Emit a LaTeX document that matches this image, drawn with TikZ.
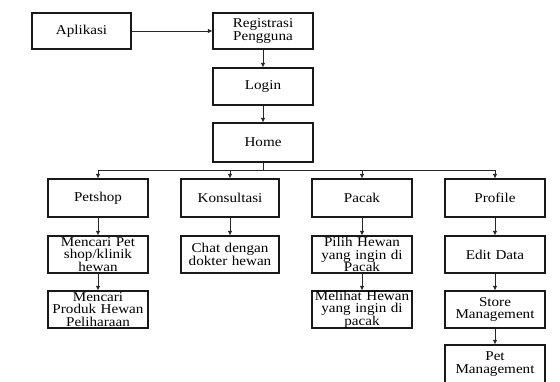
\documentclass[tikz,border=0pt]{standalone}
\usepackage{fontspec}
\setmainfont{Liberation Serif}[FakeStretch=1.12]
\usetikzlibrary{arrows.meta}
\begin{document}
\begin{tikzpicture}[x=1pt,y=-1pt,
  box/.style={draw=black!90,line width=1.1pt,minimum width=100pt,minimum height=37pt,
    inner sep=0pt,align=center,text width=98pt,
    font=\fontsize{13.5}{12.3}\selectfont},
  arr/.style={draw=black!85,line width=0.8pt,-{Latex[length=4.5pt,width=4.5pt]}},
  ln/.style={draw=black!85,line width=0.8pt}]
\useasboundingbox (0,0) rectangle (560,381);
\clip (0,0) rectangle (560,381);
\node[box,minimum width=99pt,minimum height=36pt] (apl) at (81.5,31) {Aplikasi};
\node[box,minimum height=36pt] (reg) at (263,31) {Registrasi\\Pengguna};
\node[box] (login) at (263,86.5) {Login};
\node[box,minimum height=39pt] (home) at (263,142.5) {Home};
\node[box,minimum height=38pt] (pet) at (98,198) {Petshop};
\node[box,minimum width=98pt,minimum height=38pt] (kon) at (230,198) {Konsultasi};
\node[box,minimum height=38pt] (pac) at (362,198) {Pacak};
\node[box,minimum height=38pt] (pro) at (495,198) {Profile};
\node[box] (cari) at (98,254.5) {Mencari Pet\\shop/klinik\\hewan};
\node[box,minimum width=98pt] (chat) at (230,254.5) {Chat dengan\\dokter hewan};
\node[box] (pilih) at (362,254.5) {Pilih Hewan\\yang ingin di\\Pacak};
\node[box] (edit) at (495,254.5) {Edit Data};
\node[box] (produk) at (98,309.5) {Mencari\\Produk Hewan\\Peliharaan};
\node[box] (lihat) at (362,309.5) {Melihat Hewan\\yang ingin di\\pacak};
\node[box] (store) at (495,309.5) {Store\\Management};
\node[box,minimum height=38pt] (petm) at (495,364) {Pet\\Management};
\coordinate (bus) at (263,170);
\draw[arr] (apl) -- (reg);
\draw[arr] (reg) -- (login);
\draw[arr] (login) -- (home);
\draw[ln] (home.south) -- (bus);
\draw[arr] (bus) -| (pet.north);
\draw[arr] (bus) -| (kon.north);
\draw[arr] (bus) -| (pac.north);
\draw[arr] (bus) -| (pro.north);
\draw[arr] (pet) -- (cari);
\draw[arr] (kon) -- (chat);
\draw[arr] (pac) -- (pilih);
\draw[arr] (pro) -- (edit);
\draw[arr] (cari) -- (produk);
\draw[arr] (pilih) -- (lihat);
\draw[arr] (edit) -- (store);
\draw[arr] (store) -- (petm);
\end{tikzpicture}
\end{document}
